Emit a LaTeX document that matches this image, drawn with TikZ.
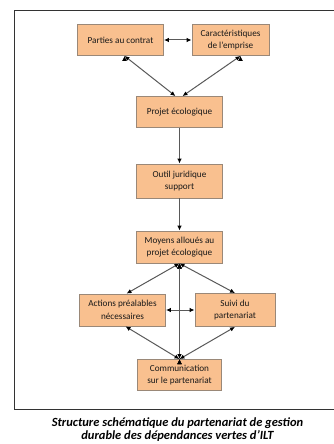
\documentclass[tikz,border=0pt]{standalone}
\usepackage{fontspec}
\setmainfont{Carlito}
\usetikzlibrary{arrows.meta}

\definecolor{boxfill}{HTML}{F9C08F}
\definecolor{boxline}{HTML}{9A8878}

\begin{document}
\begin{tikzpicture}[
    x = 1pt, y = -1pt,
    etape/.style = {shape = rectangle, draw = boxline, fill = boxfill, thick, minimum width = 86pt, minimum height = 31pt, inner sep = 1pt, align = center, font = \fontsize{9.2}{12.5}\selectfont, text = black!90},
    lien/.style = {draw = gray!70!black, line width = 1pt, >={Latex[length=5pt, width=4.5pt, black]}},
    ]
    \useasboundingbox (0, 0) rectangle (333, 444);
    \draw[line width = 1pt, black!80] (340, 10.5) -- (14, 10.5) -- (14, 409) -- (340, 409);

    \node[etape] (parties) at (120.5, 40) {Parties au contrat};
    \node[etape, minimum width = 77pt] (caract) at (230.5, 40) {Caractéristiques\\de l'emprise};
    \node[etape] (projet) at (179.5, 112) {Projet écologique};
    \node[etape, minimum height = 34pt] (outil) at (179.5, 181) {Outil juridique\\support};
    \node[etape, minimum height = 32pt] (moyens) at (179.5, 247) {Moyens alloués au\\projet écologique};
    \node[etape, minimum height = 32pt] (actions) at (122.5, 310) {Actions préalables\\nécessaires};
    \node[etape, minimum width = 80pt, minimum height = 33pt] (suivi) at (235, 310) {Suivi du\\partenariat};
    \node[etape, minimum width = 84pt] (comm) at (179.5, 375) {Communication\\sur le partenariat};

    \path[lien, <->] (parties) edge (caract);
    \path[lien, <->] ([xshift = 4pt]parties.south) edge ([xshift = -4pt]projet.north);
    \path[lien, <->] ([xshift = 10pt]caract.south) edge ([xshift = 3pt]projet.north);
    \path[lien, ->] (projet) edge (outil);
    \path[lien, ->] (outil) edge (moyens);

    \path[lien, <->] (moyens.south) edge ([xshift = 4pt]actions.north);
    \path[lien, <->] (moyens.south) edge (suivi.north);
    \path[lien, <->] (moyens.south) edge (comm.north);
    \path[lien, <->] (actions) edge (suivi);
    \path[lien, <->] (comm.north) edge ([xshift = 3pt]actions.south);
    \path[lien, <->] (comm.north) edge (suivi.south);

    \node[font = \fontsize{12.5}{13.5}\selectfont\bfseries\itshape, align = center, inner sep = 0pt] (legende) at (177.5, 429.5) {Structure schématique du partenariat de gestion\\durable des dépendances vertes d'ILT};
\end{tikzpicture}
\end{document}
